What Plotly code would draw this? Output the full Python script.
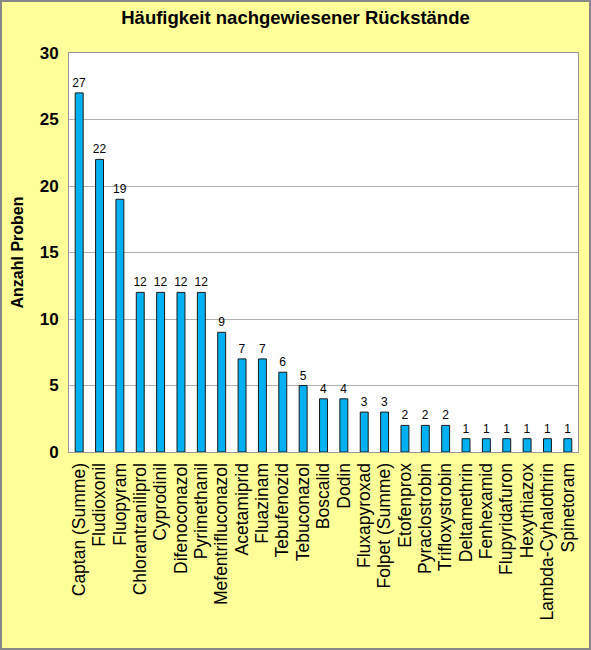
import plotly.graph_objects as go

wirkstoffe = [
    "Captan (Summe)", "Fludioxonil", "Fluopyram", "Chlorantraniliprol",
    "Cyprodinil", "Difenoconazol", "Pyrimethanil", "Mefentrifluconazol",
    "Acetamiprid", "Fluazinam", "Tebufenozid", "Tebuconazol", "Boscalid",
    "Dodin", "Fluxapyroxad", "Folpet (Summe)", "Etofenprox",
    "Pyraclostrobin", "Trifloxystrobin", "Deltamethrin", "Fenhexamid",
    "Flupyridafuron", "Hexythiazox", "Lambda-Cyhalothrin", "Spinetoram",
]
anzahl = [27, 22, 19, 12, 12, 12, 12, 9, 7, 7, 6, 5, 4, 4, 3, 3, 2, 2, 2,
          1, 1, 1, 1, 1, 1]

font = "Liberation Sans, Arial, sans-serif"

# plot area in pixels, used for the frame and the axis title
W, H = 591, 650
ml, mr, mt, mb = 69, 13, 53, 198
pw = W - ml - mr
ph = H - mt - mb

fig = go.Figure()

fig.add_trace(go.Bar(
    x=wirkstoffe,
    y=anzahl,
    marker=dict(color="#00B0F0", line=dict(color="#1a1a1a", width=1)),
    text=anzahl,
    textposition="outside",
    textangle=0,
    textfont=dict(family=font, size=12, color="black"),
    cliponaxis=False,
))

fig.update_layout(
    width=W,
    height=H,
    margin=dict(l=ml, r=mr, t=mt, b=mb, autoexpand=False),
    paper_bgcolor="#FFFF99",
    plot_bgcolor="white",
    bargap=0.61,
    showlegend=False,
    uniformtext=dict(minsize=12, mode="show"),
    title=dict(
        text="<b>Häufigkeit nachgewiesener Rückstände</b>",
        x=0.5, xanchor="center", y=1 - 18 / H, yanchor="middle",
        xref="container",
        font=dict(family=font, size=18.5, color="black"),
    ),
    font=dict(family=font, color="black"),
)

fig.update_xaxes(
    automargin=False,
    tickmode="array",
    tickvals=wirkstoffe,
    ticktext=wirkstoffe,
    tickangle=-90,
    tickfont=dict(family=font, size=17.5, color="black"),
    showline=True, linecolor="#999999", mirror=True,
    ticks="outside", ticklen=3, tickcolor="rgba(0,0,0,0)",
)

fig.update_yaxes(
    automargin=False,
    range=[0, 30],
    dtick=5,
    tickformat="d",
    tickprefix="<b>", ticksuffix="</b>",
    tickfont=dict(family=font, size=17, color="black"),
    showgrid=True, gridcolor="#b0b0b0",
    showline=True, linecolor="#999999", mirror=True,
    zeroline=False,
    ticks="outside", ticklen=6, tickcolor="rgba(0,0,0,0)",
)

fig.add_annotation(
    text="<b>Anzahl Proben</b>",
    xref="paper", yref="paper",
    x=(17 - ml) / pw, y=0.5,
    xanchor="center", yanchor="middle",
    textangle=-90, showarrow=False,
    font=dict(family=font, size=16, color="black"),
)

# gray frame around the whole picture
fig.add_shape(
    type="rect", xref="paper", yref="paper",
    x0=-(ml - 1) / pw, x1=1 + (mr - 1) / pw,
    y0=-(mb - 1) / ph, y1=1 + (mt - 1) / ph,
    line=dict(color="#888888", width=2),
)

fig.write_html(
    "out.html",
    config={"displayModeBar": False},
    post_script="document.body.style.margin='0';",
)
